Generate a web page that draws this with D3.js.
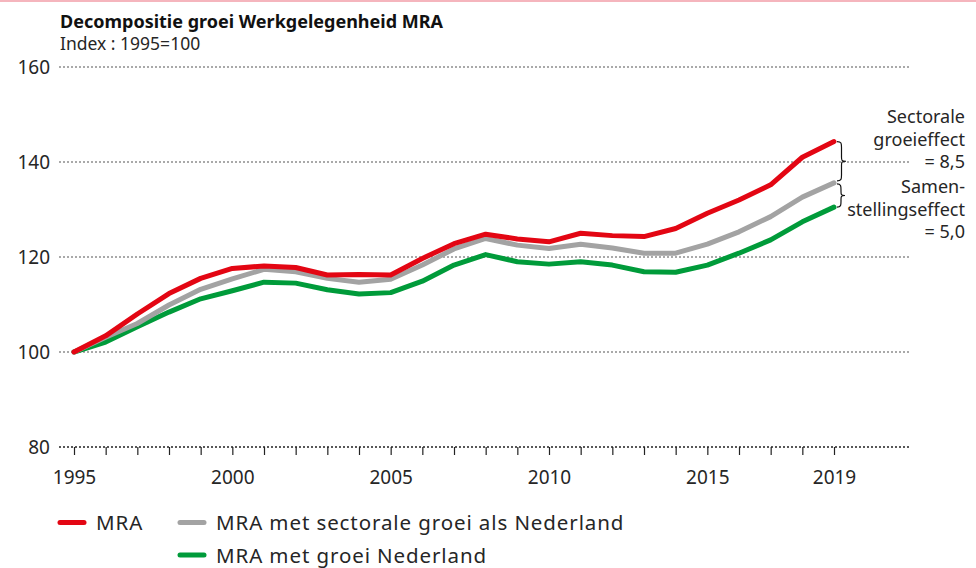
<!DOCTYPE html>
<html>
<head>
<meta charset="utf-8">
<script src="https://cdn.jsdelivr.net/npm/d3@7"></script>
<style>
  body { margin: 0; background: #fff; }
  svg { display: block; font-family: "Noto Sans", sans-serif; }
</style>
</head>
<body>
<svg id="chart" width="976" height="568"></svg>
<script>
// Index 1995 = 100
const years = d3.range(1995, 2020);
const mra = [100, 103.4, 108.0, 112.3, 115.5, 117.6, 118.1, 117.8, 116.2, 116.3, 116.2, 119.7, 122.8, 124.8, 123.8, 123.2, 125.0, 124.5, 124.3, 126.0, 129.2, 132.0, 135.2, 141.0, 144.3];
const sectoraal = [100, 103.1, 106.0, 109.9, 113.2, 115.4, 117.4, 116.9, 115.5, 114.7, 115.3, 118.3, 121.7, 123.9, 122.5, 121.8, 122.7, 121.9, 120.8, 120.8, 122.7, 125.3, 128.5, 132.6, 135.6];
const nederland = [100, 102.1, 105.3, 108.4, 111.2, 112.9, 114.7, 114.5, 113.1, 112.2, 112.5, 114.9, 118.3, 120.5, 119.0, 118.5, 119.0, 118.3, 116.9, 116.8, 118.3, 120.8, 123.6, 127.4, 130.5];
const yTicks = [80, 100, 120, 140, 160];
const xLabels = [1995, 2000, 2005, 2010, 2015, 2019];

const series = [
  { name: "MRA", values: mra, color: "#e30613" },
  { name: "MRA met sectorale groei als Nederland", values: sectoraal, color: "#a3a3a3" },
  { name: "MRA met groei Nederland", values: nederland, color: "#009b3a" }
];

const svg = d3.select("#chart");
const textColor = "#262626";

const x = d3.scaleLinear().domain([1995, 2019]).range([74, 834]);
const y = d3.scaleLinear().domain([80, 160]).range([447, 67]);
const gridLeft = 59, gridRight = 909;

// pink rule at the top
svg.append("rect")
  .attr("x", 0).attr("y", 0)
  .attr("width", 976).attr("height", 2)
  .attr("fill", "#f5b5bd");

// title
svg.append("text")
  .attr("x", 60).attr("y", 28)
  .attr("font-size", "18px")
  .attr("font-weight", "bold")
  .attr("fill", "#111")
  .text("Decompositie groei Werkgelegenheid MRA");

svg.append("text")
  .attr("x", 60).attr("y", 50)
  .attr("font-size", "17.5px")
  .attr("fill", textColor)
  .text("Index : 1995=100");

// gridlines + y labels
const grid = svg.append("g");
yTicks.forEach(t => {
  grid.append("line")
    .attr("x1", gridLeft).attr("x2", gridRight)
    .attr("y1", y(t)).attr("y2", y(t))
    .attr("stroke", t === 80 ? "#222" : "#555")
    .attr("stroke-width", t === 80 ? 1.5 : 1.2)
    .attr("stroke-dasharray", "2,2");
  grid.append("text")
    .attr("x", 50).attr("y", y(t) + 7)
    .attr("text-anchor", "end")
    .attr("font-size", "19px")
    .attr("fill", textColor)
    .text(t);
});

// x axis ticks
const xAxis = d3.axisBottom(x)
  .tickValues(years)
  .tickSize(8)
  .tickFormat(d => xLabels.includes(d) ? d : "");

const gx = svg.append("g")
  .attr("transform", `translate(0, ${y(80)})`)
  .call(xAxis);
gx.select(".domain").remove();
gx.selectAll(".tick line").attr("stroke", "#222").attr("stroke-width", 1.2);
gx.selectAll(".tick text")
  .attr("font-family", "'Noto Sans', sans-serif")
  .attr("font-size", "19px")
  .attr("fill", textColor)
  .attr("dy", "1.35em");

// lines
const line = d3.line()
  .x((d, i) => x(years[i]))
  .y(d => y(d));

// draw green first so red sits on top
series.slice().reverse().forEach(s => {
  svg.append("path")
    .datum(s.values)
    .attr("d", line)
    .attr("fill", "none")
    .attr("stroke", s.color)
    .attr("stroke-width", 5)
    .attr("stroke-linejoin", "round")
    .attr("stroke-linecap", "round");
});

// curly braces at the end
function brace(x0, y1, y2, w) {
  const ym = (y1 + y2) / 2;
  const h = w / 2;
  return `M${x0},${y1} C${x0 + h},${y1} ${x0 + h},${y1 + 2} ${x0 + h},${y1 + 6}` +
    ` L${x0 + h},${ym - 4} C${x0 + h},${ym - 1} ${x0 + h},${ym} ${x0 + w},${ym}` +
    ` C${x0 + h},${ym} ${x0 + h},${ym + 1} ${x0 + h},${ym + 4}` +
    ` L${x0 + h},${y2 - 6} C${x0 + h},${y2 - 2} ${x0 + h},${y2} ${x0},${y2}`;
}
const last = years.length - 1;
const bx = x(2019) + 3;
svg.append("path")
  .attr("d", brace(bx, y(mra[last]), y(sectoraal[last]) - 2, 9))
  .attr("fill", "none").attr("stroke", "#111").attr("stroke-width", 1.2);
svg.append("path")
  .attr("d", brace(bx, y(sectoraal[last]) + 1, y(nederland[last]), 8))
  .attr("fill", "none").attr("stroke", "#111").attr("stroke-width", 1.2);

// annotation text
const notes = ["Sectorale", "groeieffect", "= 8,5", "Samen-", "stellingseffect", "= 5,0"];
const noteY = [123, 146, 168, 193, 216, 238];
notes.forEach((t, i) => {
  svg.append("text")
    .attr("x", 965).attr("y", noteY[i])
    .attr("text-anchor", "end")
    .attr("font-size", "18px")
    .attr("fill", textColor)
    .text(t);
});

// legend
const legendPos = [[58, 522.5], [178, 522.5], [178, 555]];
series.forEach((s, i) => {
  const [lx, ly] = legendPos[i];
  svg.append("line")
    .attr("x1", lx + 2).attr("x2", lx + 26)
    .attr("y1", ly).attr("y2", ly)
    .attr("stroke", s.color)
    .attr("stroke-width", 5)
    .attr("stroke-linecap", "round");
  svg.append("text")
    .attr("x", lx + 38).attr("y", ly + 7.5)
    .attr("font-size", "20.5px")
    .attr("letter-spacing", "0.9px")
    .attr("fill", textColor)
    .text(s.name);
});
</script>
</body>
</html>
